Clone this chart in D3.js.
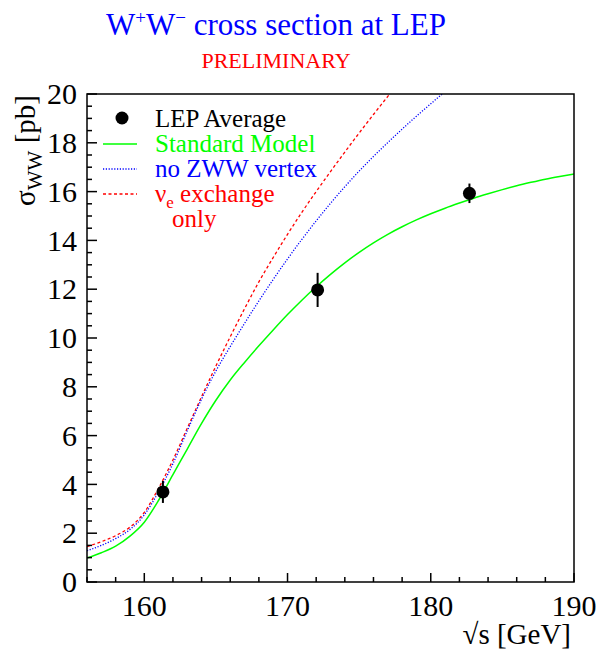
<!DOCTYPE html>
<meta charset="utf-8">
<style>
  body { margin: 0; background: #fff; }
</style>
<div id="chart"></div>
<script src="https://d3js.org/d3.v7.min.js"></script>
<script>

// LEP average measurements
var lepE     = [161.3, 172.1, 182.7];
var lepXS    = [3.69, 11.97, 15.93];
var lepErr   = [0.45, 0.70, 0.40];

// Standard Model prediction
var smE  = [156,157,158,159,160,161,162,163,164,165,166,167,168,169,170,171,172,173,174,175,176,177,178,179,180,181,182,183,184,185,186,187,188,189,190];
var smXS = [0.98,1.20,1.47,1.88,2.45,3.35,4.40,5.45,6.50,7.45,8.28,9.00,9.68,10.33,10.96,11.55,12.10,12.61,13.08,13.51,13.90,14.25,14.56,14.84,15.09,15.32,15.53,15.73,15.91,16.08,16.24,16.38,16.51,16.62,16.72];

// no ZWW vertex
var nozE  = [156,157,158,159,160,161,162,163,164,165,166,167,168,169,170,171,172,173,174,175,176,177,178,179,180,181,182];
var nozXS = [1.28,1.50,1.78,2.15,2.75,3.70,4.85,6.20,7.50,8.65,9.65,10.60,11.52,12.40,13.24,14.04,14.80,15.52,16.20,16.84,17.44,18.01,18.56,19.09,19.60,20.10,20.59];

// nu_e exchange only
var nueE  = [156,157,158,159,160,161,162,163,164,165,166,167,168,169,170,171,172,173,174,175,176,177,178];
var nueXS = [1.45,1.65,1.90,2.25,2.85,3.85,5.00,6.30,7.60,8.85,10.05,11.20,12.30,13.30,14.25,15.15,16.00,16.82,17.62,18.40,19.16,19.90,20.62];

var xTicks = [160, 170, 180, 190];
var yTicks = [0, 2, 4, 6, 8, 10, 12, 14, 16, 18, 20];

var W = 598, H = 652;
var pL = 87, pR = 574, pT = 94, pB = 582;

var svg = d3.select("#chart").append("svg")
    .attr("width", W)
    .attr("height", H)
    .attr("font-family", "'Liberation Serif', 'DejaVu Serif', 'Times New Roman', serif");

var x = d3.scaleLinear().domain([156, 190]).range([pL, pR]);
var y = d3.scaleLinear().domain([0, 20]).range([pB, pT]);

// title
var title = svg.append("text")
    .attr("x", 276)
    .attr("y", 35)
    .attr("text-anchor", "middle")
    .attr("fill", "#0000ff")
    .attr("font-size", 31);
title.append("tspan").text("W");
title.append("tspan").attr("font-size", 19).attr("dy", -11).text("+");
title.append("tspan").attr("dy", 11).text("W");
title.append("tspan").attr("font-size", 19).attr("dy", -11).text("\u2212");
title.append("tspan").attr("dy", 11).text(" cross section at LEP");

svg.append("text")
    .attr("x", 276)
    .attr("y", 68)
    .attr("text-anchor", "middle")
    .attr("fill", "#ff0000")
    .attr("font-size", 22)
    .text("PRELIMINARY");

// clip
svg.append("clipPath").attr("id", "plot")
  .append("rect")
    .attr("x", pL).attr("y", pT)
    .attr("width", pR - pL).attr("height", pB - pT);

// curves
var line = d3.line()
    .x(function(d) { return x(d[0]); })
    .y(function(d) { return y(d[1]); })
    .curve(d3.curveMonotoneX);

var curves = [
  { e: nueE, s: nueXS, color: "#ff0000", dash: "3,2.5", w: 1.3 },
  { e: nozE, s: nozXS, color: "#0000ff", dash: "1.2,1.6", w: 1.3 },
  { e: smE,  s: smXS,  color: "#00ff00", dash: null, w: 1.5 }
];

var g = svg.append("g").attr("clip-path", "url(#plot)");

curves.forEach(function(c) {
  g.append("path")
      .datum(d3.zip(c.e, c.s))
      .attr("fill", "none")
      .attr("stroke", c.color)
      .attr("stroke-width", c.w)
      .attr("stroke-dasharray", c.dash)
      .attr("d", line);
});

// data points
var pts = d3.zip(lepE, lepXS, lepErr);
g.selectAll("line.err")
  .data(pts)
  .enter().append("line")
    .attr("class", "err")
    .attr("x1", function(d) { return x(d[0]); })
    .attr("x2", function(d) { return x(d[0]); })
    .attr("y1", function(d) { return y(d[1] - d[2]); })
    .attr("y2", function(d) { return y(d[1] + d[2]); })
    .attr("stroke", "#000")
    .attr("stroke-width", 2);

g.selectAll("circle.pt")
  .data(pts)
  .enter().append("circle")
    .attr("class", "pt")
    .attr("cx", function(d) { return x(d[0]); })
    .attr("cy", function(d) { return y(d[1]); })
    .attr("r", 6.5)
    .attr("fill", "#000");

// frame
svg.append("rect")
    .attr("x", pL).attr("y", pT)
    .attr("width", pR - pL).attr("height", pB - pT)
    .attr("fill", "none")
    .attr("stroke", "#000")
    .attr("stroke-width", 1.5);

// y axis (ticks inward)
var yAxis = svg.append("g").attr("transform", "translate(" + pL + ",0)");
yAxis.selectAll("line")
  .data(y.ticks(40))
  .enter().append("line")
    .attr("x1", 0)
    .attr("x2", function(d) { return d % 2 === 0 ? 10 : 5; })
    .attr("y1", y).attr("y2", y)
    .attr("stroke", "#000")
    .attr("stroke-width", 1.5);

yAxis.selectAll("text")
  .data(yTicks)
  .enter().append("text")
    .attr("x", -10)
    .attr("y", y)
    .attr("dy", "0.34em")
    .attr("text-anchor", "end")
    .attr("font-size", 30)
    .text(function(d) { return d; });

// x axis (ticks inward)
var xAxis = svg.append("g").attr("transform", "translate(0," + pB + ")");
xAxis.selectAll("line")
  .data(x.ticks(17))
  .enter().append("line")
    .attr("x1", x).attr("x2", x)
    .attr("y1", 0)
    .attr("y2", function(d) { return d % 10 === 0 ? -9 : -5; })
    .attr("stroke", "#000")
    .attr("stroke-width", 1.5);

xAxis.selectAll("text")
  .data(xTicks)
  .enter().append("text")
    .attr("x", x)
    .attr("y", 34)
    .attr("text-anchor", "middle")
    .attr("font-size", 30)
    .text(function(d) { return d; });

// axis titles
svg.append("text")
    .attr("x", 571)
    .attr("y", 644)
    .attr("text-anchor", "end")
    .attr("font-size", 29)
    .text("\u221As [GeV]");

var yl = svg.append("text")
    .attr("transform", "translate(35,95) rotate(-90)")
    .attr("text-anchor", "end")
    .attr("font-size", 29);
yl.append("tspan").text("\u03C3");
yl.append("tspan").attr("font-size", 21).attr("dy", 7).text("WW");
yl.append("tspan").attr("dy", -7).text(" [pb]");

// legend
var legend = svg.append("g");
legend.append("circle").attr("cx", 122).attr("cy", 118).attr("r", 6.5).attr("fill", "#000");
legend.append("text").attr("x", 155).attr("y", 127).attr("font-size", 25).text("LEP Average");

var legRows = [
  { label: "Standard Model", color: "#00ff00", dash: null, y: 144 },
  { label: "no ZWW vertex", color: "#0000ff", dash: "1.2,1.6", y: 169 }
];
legRows.forEach(function(r) {
  legend.append("line")
      .attr("x1", 103).attr("x2", 137)
      .attr("y1", r.y).attr("y2", r.y)
      .attr("stroke", r.color)
      .attr("stroke-width", 1.4)
      .attr("stroke-dasharray", r.dash);
  legend.append("text")
      .attr("x", 155).attr("y", r.y + 8)
      .attr("font-size", 25)
      .attr("fill", r.color)
      .text(r.label);
});

legend.append("line")
    .attr("x1", 103).attr("x2", 137)
    .attr("y1", 194).attr("y2", 194)
    .attr("stroke", "#ff0000")
    .attr("stroke-width", 1.4)
    .attr("stroke-dasharray", "3,2.5");
var nu = legend.append("text")
    .attr("x", 155).attr("y", 202)
    .attr("font-size", 25)
    .attr("fill", "#ff0000");
nu.append("tspan").text("\u03BD");
nu.append("tspan").attr("font-size", 17).attr("dy", 6).text("e");
nu.append("tspan").attr("dy", -6).text(" exchange");
legend.append("text")
    .attr("x", 172).attr("y", 227)
    .attr("font-size", 25)
    .attr("fill", "#ff0000")
    .text("only");

</script>
